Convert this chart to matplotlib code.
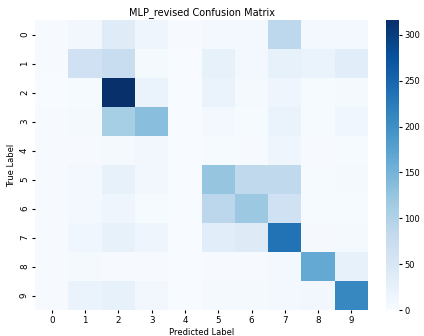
import numpy as np
import matplotlib
matplotlib.use('Agg')
import matplotlib.pyplot as plt
import seaborn as sns

labels = [str(i) for i in range(10)]

# confusion matrix, rows = true label, cols = predicted label
row0 = [2, 10, 38, 15, 2, 8, 8, 88, 8, 8]
row1 = [2, 65, 75, 5, 1, 25, 8, 25, 20, 35]
row2 = [1, 3, 316, 20, 1, 20, 5, 15, 3, 5]
row3 = [2, 5, 110, 135, 1, 8, 3, 20, 3, 12]
row4 = [2, 2, 5, 10, 1, 3, 2, 15, 2, 3]
row5 = [2, 8, 25, 10, 0, 125, 85, 85, 3, 5]
row6 = [2, 8, 15, 3, 0, 90, 120, 65, 3, 3]
row7 = [2, 12, 25, 15, 1, 35, 40, 235, 4, 5]
row8 = [2, 5, 2, 2, 1, 2, 2, 8, 165, 25]
row9 = [2, 20, 25, 10, 1, 6, 5, 8, 10, 210]

cm = np.array([row0, row1, row2, row3, row4, row5, row6, row7, row8, row9])

fig = plt.figure(figsize=(4.24, 3.36), dpi=100)
ax = fig.add_axes([0.083, 0.077, 0.785, 0.863])
cax = fig.add_axes([0.910, 0.077, 0.031, 0.863])

sns.heatmap(cm, cmap='Blues', ax=ax, cbar_ax=cax,
            xticklabels=labels, yticklabels=labels)

ax.set_title('MLP_revised Confusion Matrix', fontsize=7, pad=4)
ax.set_xlabel('Predicted Label', fontsize=6, labelpad=2)
ax.set_ylabel('True Label', fontsize=6, labelpad=3)
ax.tick_params(labelsize=6.3, length=2.5, pad=2)
cax.tick_params(labelsize=6, length=2.5, pad=1.5)

plt.savefig('out.png', dpi=100)
